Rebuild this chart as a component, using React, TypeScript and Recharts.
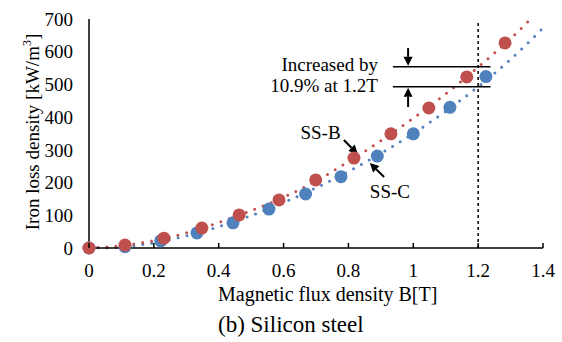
import React from "react";
import {
  ComposedChart,
  Scatter,
  Line,
  XAxis,
  YAxis,
  ReferenceLine,
  ReferenceDot,
} from "recharts";

// measured points (B [T], loss [kW/m3])
const ssBFlux = [0, 0.111, 0.231, 0.348, 0.463, 0.586, 0.699, 0.817, 0.931, 1.048, 1.165, 1.283];
const ssBLoss = [0, 9, 30, 61, 101, 147, 208, 275, 349, 428, 523, 627];
const ssCFlux = [0, 0.111, 0.221, 0.333, 0.444, 0.555, 0.668, 0.777, 0.889, 1.0, 1.113, 1.224];
const ssCLoss = [0, 4, 22, 46, 77, 119, 165, 218, 281, 349, 430, 524];

// dotted trendlines
const ssBTrendFlux = [0, 0.1, 0.2, 0.3, 0.4, 0.5, 0.6, 0.7, 0.8, 0.9, 1.0, 1.1, 1.2, 1.3, 1.36];
const ssBTrend = [0, 7, 23, 46, 78, 114, 155, 205, 264, 328, 397, 471, 553, 640, 698];
const ssCTrendFlux = [0, 0.1, 0.2, 0.3, 0.4, 0.5, 0.6, 0.7, 0.8, 0.9, 1.0, 1.1, 1.2, 1.3, 1.4];
const ssCTrend = [0, 3, 16, 37, 65, 99, 139, 184, 234, 289, 350, 418, 493, 577, 672];

const xTicks = [0, 0.2, 0.4, 0.6, 0.8, 1, 1.2, 1.4];
const yTicks = [0, 100, 200, 300, 400, 500, 600, 700];

const RED = "#C0504D";
const BLUE = "#4F81BD";
const FONT = "'Liberation Serif', 'Times New Roman', serif";
const FS = 19;
const textStyle = { fontFamily: FONT, fontSize: FS, fill: "#000" };

const toPoints = (xs: number[], ys: number[]) => xs.map((x, i) => ({ x, y: ys[i] }));

const ssBPoints = toPoints(ssBFlux, ssBLoss);
const ssCPoints = toPoints(ssCFlux, ssCLoss);
const ssBTrendPoints = toPoints(ssBTrendFlux, ssBTrend);
const ssCTrendPoints = toPoints(ssCTrendFlux, ssCTrend);

const marker = (color: string) => (p: any) => (
  <circle cx={p.cx} cy={p.cy} r={6.5} fill={color} />
);

const Arrow = (p: any) => {
  const { x1, y1, x2, y2 } = p;
  const dx = x2 - x1;
  const dy = y2 - y1;
  const len = Math.sqrt(dx * dx + dy * dy) || 1;
  const ux = dx / len;
  const uy = dy / len;
  const head = 9;
  const half = 4.5;
  const bx = x2 - ux * head;
  const by = y2 - uy * head;
  return (
    <g>
      <line x1={x1} y1={y1} x2={bx} y2={by} stroke="#000" strokeWidth={2} />
      <polygon
        points={`${x2},${y2} ${bx - uy * half},${by + ux * half} ${bx + uy * half},${by - ux * half}`}
        fill="#000"
      />
    </g>
  );
};

const textAt = (value: string, anchor: "start" | "middle" | "end") => (p: any) => (
  <text x={p.cx} y={p.cy} textAnchor={anchor} style={textStyle}>
    {value}
  </text>
);

const XTick = (p: any) => {
  const { x, y, payload } = p;
  return (
    <g>
      <line x1={x} x2={x} y1={y - 16} y2={y - 21} stroke="#000" strokeWidth={1.5} />
      <text x={x} y={y} dy="0.71em" textAnchor="middle" style={textStyle}>
        {String(payload.value)}
      </text>
    </g>
  );
};

const XTitle = () => (
  <g>
    <text x={218} y={301} style={{ ...textStyle, fontSize: 20 }}>
      Magnetic flux density B[T]
    </text>
    <text x={218} y={332} style={{ ...textStyle, fontSize: 23 }}>
      (b) Silicon steel
    </text>
  </g>
);

const YTitle = () => (
  <text x={39} y={132} transform="rotate(-90 39 132)" textAnchor="middle" style={textStyle}>
    Iron loss density [kW/m
    <tspan style={{ fontSize: 12 }} dy={-8}>3</tspan>
    <tspan dy={8}>]</tspan>
  </text>
);

export default function App() {
  return (
    <div style={{ position: "absolute", left: 0, top: 0, width: 562, height: 342, background: "#fff" }}>
      <ComposedChart
        width={562}
        height={342}
        margin={{ top: 19, right: 19, bottom: 0, left: 0 }}
      >
        <XAxis
          type="number"
          dataKey="x"
          domain={[0, 1.4]}
          ticks={xTicks}
          height={94}
          tickLine={false}
          tickSize={0}
          tickMargin={16}
          tick={<XTick />}
          axisLine={{ stroke: "#000", strokeWidth: 1.5 }}
          label={<XTitle />}
        />
        <YAxis
          type="number"
          dataKey="y"
          domain={[0, 700]}
          ticks={yTicks}
          width={89}
          tickLine={false}
          tickSize={0}
          tickMargin={16}
          tick={{ fill: "#000", fontSize: FS, fontFamily: FONT }}
          axisLine={{ stroke: "#000", strokeWidth: 1.5 }}
          label={<YTitle />}
        />

        <ReferenceLine
          segment={[{ x: 1.2, y: 0 }, { x: 1.2, y: 688 }]}
          stroke="#000"
          strokeWidth={1.5}
          strokeDasharray="3 3"
        />

        <Line
          data={ssCTrendPoints}
          dataKey="y"
          type="monotone"
          stroke={BLUE}
          strokeWidth={3}
          strokeDasharray="0 9"
          strokeLinecap="round"
          dot={false}
          activeDot={false}
          isAnimationActive={false}
        />
        <Line
          data={ssBTrendPoints}
          dataKey="y"
          type="monotone"
          stroke={RED}
          strokeWidth={3}
          strokeDasharray="0 9"
          strokeLinecap="round"
          dot={false}
          activeDot={false}
          isAnimationActive={false}
        />
        <Scatter data={ssCPoints} dataKey="y" shape={marker(BLUE)} isAnimationActive={false} />
        <Scatter data={ssBPoints} dataKey="y" shape={marker(RED)} isAnimationActive={false} />

        {/* 10.9% annotation */}
        <ReferenceLine segment={[{ x: 0.937, y: 554 }, { x: 1.238, y: 554 }]} stroke="#000" strokeWidth={1.5} />
        <ReferenceLine segment={[{ x: 0.937, y: 493 }, { x: 1.238, y: 493 }]} stroke="#000" strokeWidth={1.5} />
        <ReferenceLine segment={[{ x: 0.984, y: 611 }, { x: 0.984, y: 557 }]} shape={Arrow} />
        <ReferenceLine segment={[{ x: 0.984, y: 431 }, { x: 0.984, y: 490 }]} shape={Arrow} />
        <ReferenceDot x={0.891} y={541} r={0} shape={textAt("Increased by", "end")} />
        <ReferenceDot x={0.891} y={477} r={0} shape={textAt("10.9% at 1.2T", "end")} />

        {/* series labels */}
        <ReferenceDot x={0.714} y={332} r={0} shape={textAt("SS-B", "middle")} />
        <ReferenceLine segment={[{ x: 0.786, y: 330 }, { x: 0.829, y: 287 }]} shape={Arrow} />
        <ReferenceDot x={0.928} y={152} r={0} shape={textAt("SS-C", "middle")} />
        <ReferenceLine segment={[{ x: 0.91, y: 217 }, { x: 0.866, y: 260 }]} shape={Arrow} />
      </ComposedChart>
    </div>
  );
}
